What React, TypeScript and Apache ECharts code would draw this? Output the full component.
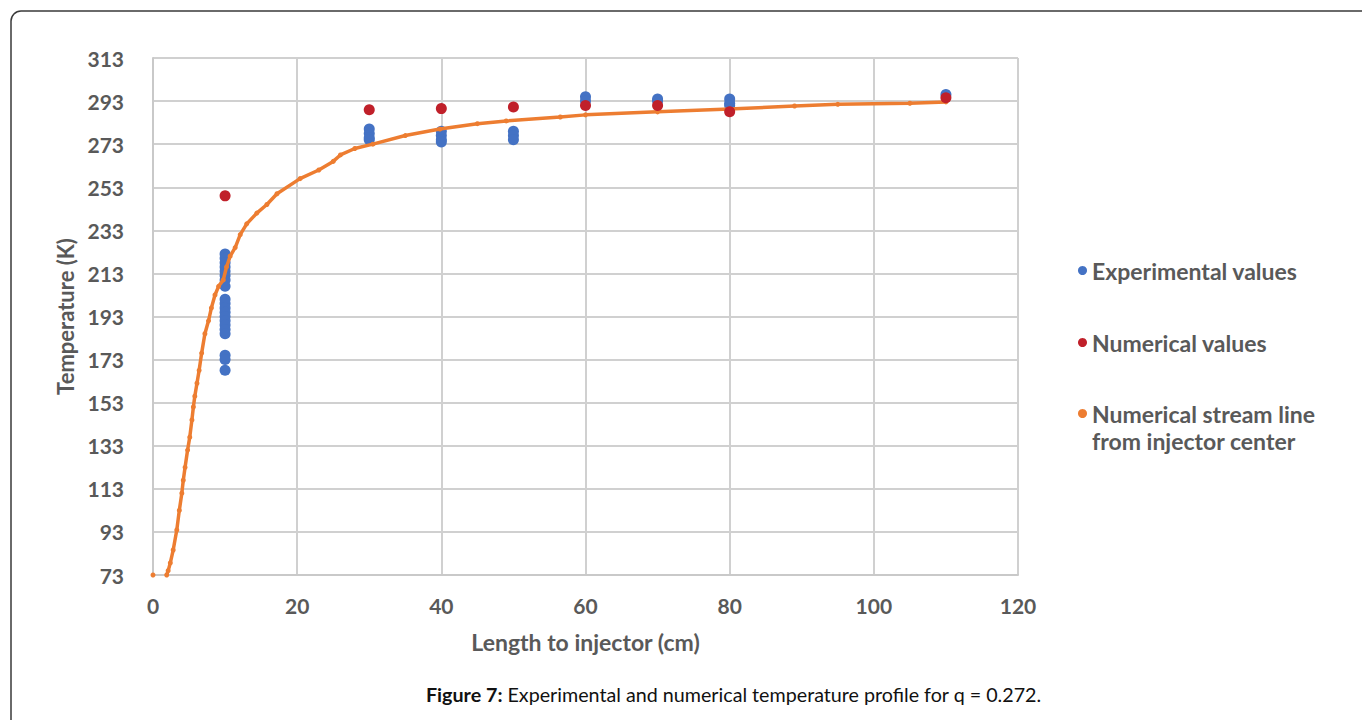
import React, { useEffect, useRef } from "react";
import * as echarts from "echarts";

// ---------- data ----------
const expX = [
  10, 10, 10, 10, 10, 10, 10, 10, 10, 10, 10, 10, 10, 10, 10, 10, 10, 10, 10, 10,
  30, 30, 30, 30,
  40, 40, 40, 40,
  50, 50, 50,
  60, 60,
  70, 70,
  80, 80, 80,
  110,
];
const expT = [
  222, 220, 218, 216, 214, 212, 210, 207, 201, 199, 197, 195, 193, 191, 189, 187, 185, 175, 173, 168,
  280, 278, 276, 275,
  279, 277, 275, 274,
  279, 277, 275,
  295, 293,
  294, 293,
  294, 292, 291,
  296,
];

const numX = [10, 30, 40, 50, 60, 70, 80, 110];
const numT = [249, 289, 289.5, 290.3, 291, 291, 288, 294.5];

const streamX = [
  0, 1.9, 2.1, 2.4, 2.8, 3.3, 3.65, 4.0, 4.2, 4.45, 4.8, 5.1, 5.4, 5.6, 5.8, 6.1, 6.4,
  6.75, 7.2, 7.7, 8.1, 8.6, 9.1, 9.75, 10.2, 10.7, 11.4, 12.1, 13, 14.4, 15.8, 17.2,
  20.4, 23, 25, 26, 28, 30.5, 35, 39.8, 45, 49, 56.5, 60, 70, 80, 89, 95, 105, 110,
];
const streamT = [
  73, 73, 75, 78.6, 84.6, 93.9, 103, 111, 117, 123, 131, 137, 145, 151, 156, 162, 168,
  176, 185, 191, 197, 203, 207, 210, 216, 221, 225, 231, 236, 241, 245, 250,
  257, 261, 265, 268, 271, 273, 277, 280, 282.5, 283.8, 285.6, 286.6, 288, 289.3, 290.7, 291.5, 292, 292.6,
];

const yTicks = [73, 93, 113, 133, 153, 173, 193, 213, 233, 253, 273, 293, 313];
const xTicks = [0, 20, 40, 60, 80, 100, 120];

const seriesNames = [
  "Experimental values",
  "Numerical values",
  "Numerical stream line",
];

const FONT = "Lato, 'Open Sans', sans-serif";
const LABEL_COLOR = "#595959";

export default function App() {
  const ref = useRef<HTMLDivElement>(null);

  useEffect(() => {
    if (!ref.current) return;
    const chart = echarts.init(ref.current, null, { renderer: "svg" });

    const expData = expX.map((x, i) => [x, expT[i]]);
    const numData = numX.map((x, i) => [x, numT[i]]);
    const streamData: any[] = [];
    streamX.forEach((x, i) => {
      streamData.push([x, streamT[i]]);
      if (i === 0) streamData.push([1, "-"]);
    });

    const legendBase = {
      orient: "vertical",
      left: 1073,
      icon: "circle",
      itemWidth: 9,
      itemHeight: 9,
      itemGap: 10,
      textStyle: {
        fontFamily: FONT,
        fontWeight: "bold",
        fontSize: 23,
        color: LABEL_COLOR,
      },
    };

    chart.setOption({
      animation: false,
      backgroundColor: "#ffffff",
      textStyle: { fontFamily: FONT },
      grid: { left: 153, top: 58, right: 344, bottom: 145, containLabel: false },
      xAxis: {
        type: "value",
        min: xTicks[0],
        max: xTicks[xTicks.length - 1],
        interval: 20,
        name: "Length to injector (cm)",
        nameLocation: "middle",
        nameGap: 55,
        nameTextStyle: {
          fontFamily: FONT,
          fontWeight: "bold",
          fontSize: 23,
          color: LABEL_COLOR,
        },
        axisLine: { show: true, lineStyle: { color: "#c9c9c9", width: 2 } },
        axisTick: { show: false },
        axisLabel: {
          margin: 20,
          fontFamily: FONT,
          fontWeight: "bold",
          fontSize: 21,
          color: LABEL_COLOR,
        },
        splitLine: { show: true, lineStyle: { color: "#d0d0d0", width: 2 } },
      },
      yAxis: {
        type: "value",
        min: yTicks[0],
        max: yTicks[yTicks.length - 1],
        interval: 20,
        name: "Temperature (K)",
        nameLocation: "middle",
        nameGap: 75,
        nameTextStyle: {
          fontFamily: FONT,
          fontWeight: "bold",
          fontSize: 22,
          color: LABEL_COLOR,
        },
        axisLine: { show: true, lineStyle: { color: "#c9c9c9", width: 2 } },
        axisTick: { show: false },
        axisLabel: {
          margin: 29,
          fontFamily: FONT,
          fontWeight: "bold",
          fontSize: 21,
          color: LABEL_COLOR,
        },
        splitLine: { show: true, lineStyle: { color: "#d0d0d0", width: 2 } },
      },
      legend: [
        { ...legendBase, top: 254, data: [seriesNames[0]] },
        { ...legendBase, top: 326, data: [seriesNames[1]] },
        { ...legendBase, top: 397, data: [seriesNames[2]] },
      ],
      graphic: [
        {
          type: "rect",
          shape: { x: 11, y: 11, width: 1500, height: 900, r: 10 },
          style: { fill: "none", stroke: "#3a3a3a", lineWidth: 1.5 },
          silent: true,
          z: -10,
        },
        {
          type: "text",
          left: 1092,
          top: 429,
          style: {
            text: "from injector center",
            font: `bold 23px ${FONT}`,
            fill: LABEL_COLOR,
          },
        },
        {
          type: "text",
          left: 426,
          top: 684,
          style: {
            text: "{b|Figure 7:} Experimental and numerical temperature profile for q = 0.272.",
            font: `19.7px ${FONT}`,
            fill: "#111111",
            rich: {
              b: { fontWeight: "bold", fontSize: 19.7, fontFamily: FONT, fill: "#111111" },
            },
          },
        },
      ],
      series: [
        {
          name: seriesNames[2],
          type: "line",
          data: streamData,
          connectNulls: false,
          showSymbol: true,
          symbol: "circle",
          symbolSize: 5,
          itemStyle: { color: "#ED7D31" },
          lineStyle: { color: "#ED7D31", width: 3.5 },
          z: 3,
        },
        {
          name: seriesNames[0],
          type: "scatter",
          data: expData,
          symbol: "circle",
          symbolSize: 11,
          itemStyle: { color: "#4472C4", opacity: 1 },
          z: 2,
        },
        {
          name: seriesNames[1],
          type: "scatter",
          data: numData,
          symbol: "circle",
          symbolSize: 11,
          itemStyle: { color: "#C0202A", opacity: 1 },
          z: 4,
        },
      ],
    });

    return () => chart.dispose();
  }, []);

  return (
    <div
      ref={ref}
      style={{ position: "fixed", left: 0, top: 0, width: 1362, height: 720 }}
    />
  );
}
